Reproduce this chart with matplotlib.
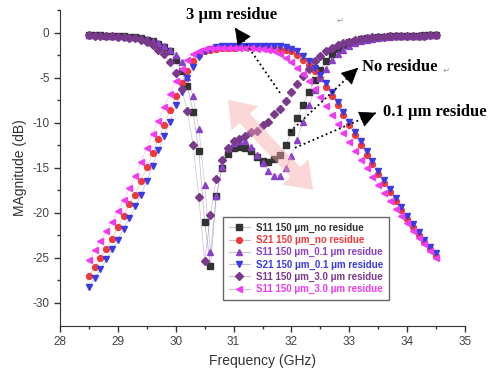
import matplotlib.pyplot as plt
import matplotlib.patches as mpatches
import numpy as np

plt.rcParams['font.family'] = ['Liberation Sans', 'DejaVu Sans']
plt.rcParams['axes.unicode_minus'] = False

W, H = 491, 378

# frequency sweep, 0.1 GHz steps
freq = np.round(np.linspace(28.5, 34.5, 61), 1)

s11_no = [-0.30, -0.31, -0.32, -0.34, -0.36, -0.39, -0.43, -0.48, -0.55, -0.65,
          -0.78, -0.98, -1.25, -1.6, -2.1, -3.0, -4.3, -5.9, -8.8, -13.2,
          -21.1, -25.9, -18.2, -15.0, -13.5, -12.8, -12.7, -12.8, -13.2, -13.8,
          -14.3, -14.4, -14.1, -13.6, -12.5, -11.1, -9.5, -8.0, -6.6, -5.3,
          -4.2, -3.2, -2.4, -1.8, -1.4, -1.1, -0.9, -0.76, -0.66, -0.58,
          -0.52, -0.48, -0.44, -0.41, -0.39, -0.37, -0.35, -0.34, -0.33, -0.32,
          -0.31]
s21_no = [-27.1, -26.1, -25.1, -24.0, -22.9, -21.6, -20.4, -19.1, -18.0, -16.5,
          -14.9, -13.4, -11.8, -10.3, -8.6, -7.1, -5.6, -4.3, -3.2, -2.5,
          -2.1, -1.9, -1.8, -1.75, -1.7, -1.68, -1.66, -1.65, -1.65, -1.65,
          -1.66, -1.68, -1.72, -1.8, -1.9, -2.1, -2.5, -3.0, -3.6, -4.3,
          -5.1, -6.0, -7.0, -8.1, -9.2, -10.3, -11.4, -12.5, -13.6, -14.6,
          -15.7, -16.7, -17.7, -18.7, -19.7, -20.7, -21.6, -22.5, -23.3, -24.1,
          -24.8]
s11_01 = [-0.30, -0.31, -0.32, -0.33, -0.35, -0.38, -0.42, -0.47, -0.53, -0.62,
          -0.74, -0.9, -1.15, -1.5, -1.9, -2.5, -3.3, -4.9, -7.1, -10.7,
          -16.9, -24.4, -18.2, -14.9, -12.8, -12.3, -12.0, -12.1, -12.7, -13.6,
          -14.5, -15.4, -15.9, -15.9, -15.1, -13.7, -11.9, -9.9, -8.1, -6.4,
          -5.1, -4.0, -3.1, -2.4, -1.9, -1.5, -1.2, -0.95, -0.8, -0.68,
          -0.6, -0.53, -0.48, -0.44, -0.41, -0.39, -0.37, -0.35, -0.34, -0.33,
          -0.32]
s21_01 = [-28.3, -27.3, -26.3, -25.2, -24.1, -23.0, -21.8, -20.6, -19.3, -18.0,
          -16.5, -14.8, -13.1, -11.5, -9.9, -8.1, -6.6, -5.1, -3.8, -2.7,
          -2.1, -1.8, -1.6, -1.55, -1.5, -1.5, -1.5, -1.5, -1.5, -1.5,
          -1.5, -1.5, -1.5, -1.52, -1.6, -1.8, -2.1, -2.6, -3.2, -3.9,
          -4.7, -5.6, -6.6, -7.7, -8.8, -9.9, -11.0, -12.1, -13.2, -14.3,
          -15.4, -16.4, -17.4, -18.4, -19.4, -20.4, -21.3, -22.2, -23.0, -23.8,
          -24.5]
s11_30 = [-0.33, -0.34, -0.36, -0.38, -0.41, -0.45, -0.5, -0.57, -0.66, -0.85,
          -1.1, -1.4, -1.9, -2.4, -3.3, -4.5, -6.3, -8.7, -12.5, -18.3,
          -25.4, -20.3, -16.3, -14.2, -12.8, -12.0, -11.8, -11.5, -11.1, -10.9,
          -10.3, -9.9, -9.1, -8.5, -7.6, -6.6, -5.7, -4.8, -4.0, -3.2,
          -2.6, -2.1, -1.7, -1.4, -1.2, -1.0, -0.85, -0.72, -0.62, -0.55,
          -0.5, -0.46, -0.43, -0.41, -0.39, -0.37, -0.36, -0.35, -0.34, -0.33,
          -0.32]
s21_30 = [-25.3, -24.2, -23.2, -22.1, -21.0, -19.8, -18.6, -17.3, -15.9, -14.4,
          -12.8, -11.3, -9.8, -8.3, -6.8, -5.4, -4.1, -3.1, -2.4, -2.0,
          -1.8, -1.75, -1.72, -1.7, -1.7, -1.7, -1.7, -1.7, -1.72, -1.78,
          -1.85, -1.95, -2.1, -2.4, -2.8, -3.3, -3.9, -4.6, -5.4, -6.3,
          -7.2, -8.2, -9.2, -10.2, -11.2, -12.2, -13.2, -14.2, -15.1, -16.0,
          -16.9, -17.8, -18.7, -19.6, -20.4, -21.2, -22.0, -22.8, -23.5, -24.3,
          -25.0]

labels = ['S11 150 \u03bcm_no residue', 'S21 150 \u03bcm_no residue',
          'S11 150 \u03bcm_0.1 \u03bcm residue', 'S21 150 \u03bcm_0.1 \u03bcm residue',
          'S11 150 \u03bcm_3.0 \u03bcm residue', 'S11 150 \u03bcm_3.0 \u03bcm residue']
colors = ['#333333', '#f03a3a', '#8a40c8', '#3a3ae6', '#7a3a8c', '#f03cf0']
markers = ['s', 'o', '^', 'v', 'D', '<']
sizes = [4, 4.2, 4.4, 4.4, 3.6, 4.4]


def px(x, y):
    return x / W, 1 - y / H


def data_xy(x, y):
    # pixel position in the reference -> data coords
    return 28 + (x - 60) / 57.86, (32.7 - y) / 9.0


fig = plt.figure(figsize=(W / 100, H / 100), dpi=100)
ax = fig.add_axes([60 / W, 1 - 326 / H, 405 / W, 316 / H])

series = [s11_no, s21_no, s11_01, s21_01, s11_30, s21_30]
# thin light connecting lines behind the markers
for vals, c in zip(series, colors):
    ax.plot(freq, vals, color=c, lw=0.5, alpha=0.35, zorder=2)
for vals, c, m, ms in zip(series, colors, markers, sizes):
    ax.plot(freq, vals, ls='none', marker=m, ms=ms, mec=c, mfc=c, zorder=3)

ax.set_xlim(28, 35)
ax.set_ylim(-32.6, 2.5)
ax.set_xticks(range(28, 36))
ax.set_xticks(np.arange(28.5, 35, 1), minor=True)
ax.set_yticks(range(-30, 1, 5))
ax.set_yticks(np.arange(-27.5, 2.6, 5), minor=True)
ax.tick_params(which='major', direction='out', length=4, width=1,
               color='#333333', labelcolor='#444444', labelsize=8.5)
ax.tick_params(which='minor', direction='out', length=2.5, width=1,
               color='#333333')
for s in ['top', 'right']:
    ax.spines[s].set_visible(False)
for s in ['left', 'bottom']:
    ax.spines[s].set_color('#333333')
ax.set_xlabel('Frequency (GHz)', fontsize=10, color='#333333', labelpad=4)
ax.set_ylabel('MAgnitude (dB)', fontsize=10, color='#333333', labelpad=4)

handles = []
for c, m, ms in zip(colors, markers, sizes):
    h, = ax.plot([], [], color='#c8c0d0', lw=0.8, marker=m, ms=ms,
                 mec=c, mfc=c)
    handles.append(h)
leg = ax.legend(handles, labels, loc='upper left', bbox_to_anchor=(0.402, 0.345),
                prop={'size': 7.0, 'weight': 'bold'}, fancybox=False,
                edgecolor='#666666', borderaxespad=0, handlelength=2.2,
                handletextpad=0.6, labelspacing=0.22, borderpad=0.6,
                framealpha=1)
leg.get_frame().set_linewidth(1.0)
for t, c in zip(leg.get_texts(), colors):
    t.set_color(c)

# pink double arrow
center = data_xy(270, 146)
for end in [data_xy(228, 100), data_xy(313, 190)]:
    arr = mpatches.FancyArrowPatch(
        posA=center, posB=end, shrinkA=0, shrinkB=0,
        arrowstyle=mpatches.ArrowStyle.Simple(head_length=0.9, head_width=1.3,
                                              tail_width=0.5),
        mutation_scale=20, color='#f7a8a8', alpha=0.45, lw=0, zorder=4)
    ax.add_patch(arr)

# dotted annotation arrows
arrows = [((280, 93), (235, 28)),
          ((290, 132), (358, 68)),
          ((295, 148), (376, 113))]
for tail, tip in arrows:
    x0, y0 = data_xy(*tail)
    x1, y1 = data_xy(*tip)
    ax.plot([x0, x1], [y0, y1], ls=':', color='k', lw=1.3, zorder=5,
            clip_on=False)
    ax.annotate('', xy=(x1, y1),
                xytext=(x1 - 0.15 * (x1 - x0), y1 - 0.15 * (y1 - y0)),
                arrowprops=dict(arrowstyle='-|>,head_length=0.9,head_width=0.45',
                                mutation_scale=12, color='k', lw=0.5,
                                shrinkA=0, shrinkB=0),
                zorder=6, annotation_clip=False)

serif = ['Liberation Serif', 'DejaVu Serif']
fig.text(*px(186, 15), '3 \u03bcm residue', family=serif, weight='bold',
         fontsize=12, ha='left', va='center')
fig.text(*px(337, 20), '\u21b5', family=['DejaVu Sans'], fontsize=6,
         color='#999999', ha='left', va='center')
fig.text(*px(362, 67), 'No residue', family=serif, weight='bold',
         fontsize=12, ha='left', va='center')
fig.text(*px(443, 70), '\u21b5', family=['DejaVu Sans'], fontsize=6,
         color='#999999', ha='left', va='center')
fig.text(*px(383, 112), '0.1 \u03bcm residue', family=serif, weight='bold',
         fontsize=12, ha='left', va='center')

plt.savefig('out.png', dpi=100)
